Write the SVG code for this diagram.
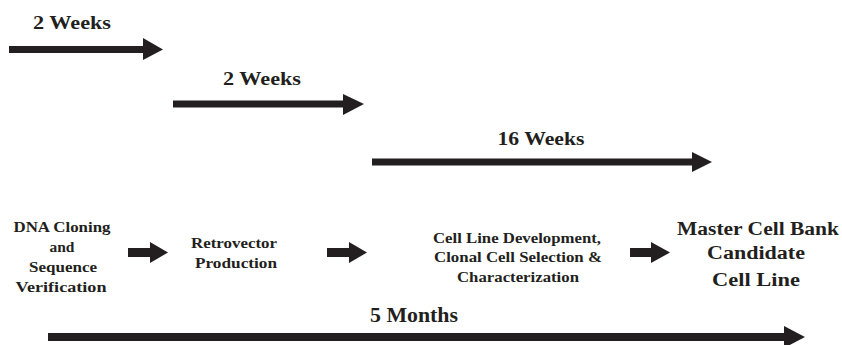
<svg xmlns="http://www.w3.org/2000/svg" width="842" height="345" viewBox="0 0 842 345">
<style>
text{font-family:"Liberation Serif",serif;font-weight:bold;fill:#231f20;text-anchor:middle}
.wk{font-size:19px}
.sm{font-size:14.5px}
.lg{font-size:18.5px}
.arr{fill:#231f20}
</style>
<rect width="842" height="345" fill="#fff"/>
<g id="connectors">
<g id="t1"><rect class="arr" x="9" y="46" width="136" height="7"/><polygon class="arr" points="143,38 163,49.5 143,60"/></g>
<g id="t2"><rect class="arr" x="173" y="100.5" width="172" height="7"/><polygon class="arr" points="343,94 364,104 343,115"/></g>
<g id="t3"><rect class="arr" x="372" y="158.5" width="322" height="7"/><polygon class="arr" points="692,152 712,162 692,172"/></g>
<g id="s1"><rect class="arr" x="128" y="248" width="26" height="9"/><polygon class="arr" points="150,242 168,252.5 150,263"/></g>
<g id="s2"><rect class="arr" x="327" y="248" width="26" height="9"/><polygon class="arr" points="349,242 367,252.5 349,263"/></g>
<g id="s3"><rect class="arr" x="630" y="248" width="24" height="9"/><polygon class="arr" points="651,242 670,252.5 651,263"/></g>
<g id="big"><rect class="arr" x="48" y="333" width="738" height="8"/><polygon class="arr" points="784,326 805,337 784,348"/></g>
</g>
<g id="lbl-2w-a"><text class="wk" x="72" y="29" textLength="78" lengthAdjust="spacingAndGlyphs">2 Weeks</text></g>
<g id="lbl-2w-b"><text class="wk" x="262" y="85" textLength="78" lengthAdjust="spacingAndGlyphs">2 Weeks</text></g>
<g id="lbl-16w"><text class="wk" x="541" y="145" textLength="87" lengthAdjust="spacingAndGlyphs">16 Weeks</text></g>
<g id="n-dna">
<text class="sm" x="62" y="232" textLength="97" lengthAdjust="spacingAndGlyphs">DNA Cloning</text>
<text class="sm" x="62" y="252" textLength="25" lengthAdjust="spacingAndGlyphs">and</text>
<text class="sm" x="63" y="272" textLength="68" lengthAdjust="spacingAndGlyphs">Sequence</text>
<text class="sm" x="61" y="292" textLength="91" lengthAdjust="spacingAndGlyphs">Verification</text>
</g>
<g id="n-retro">
<text class="sm" x="234" y="248" textLength="86" lengthAdjust="spacingAndGlyphs">Retrovector</text>
<text class="sm" x="236" y="268" textLength="82" lengthAdjust="spacingAndGlyphs">Production</text>
</g>
<g id="n-cell">
<text class="sm" x="517" y="243" textLength="168" lengthAdjust="spacingAndGlyphs">Cell Line Development,</text>
<text class="sm" x="518" y="262" textLength="168" lengthAdjust="spacingAndGlyphs">Clonal Cell Selection &amp;</text>
<text class="sm" x="518" y="282" textLength="122" lengthAdjust="spacingAndGlyphs">Characterization</text>
</g>
<g id="n-master">
<text class="lg" x="758" y="235" textLength="162" lengthAdjust="spacingAndGlyphs">Master Cell Bank</text>
<text class="lg" x="756" y="259" textLength="98" lengthAdjust="spacingAndGlyphs">Candidate</text>
<text class="lg" x="756" y="286" textLength="88" lengthAdjust="spacingAndGlyphs">Cell Line</text>
</g>
<g id="lbl-5m"><text style="font-size:20px" x="414" y="322" textLength="88" lengthAdjust="spacingAndGlyphs">5 Months</text></g>
</svg>
